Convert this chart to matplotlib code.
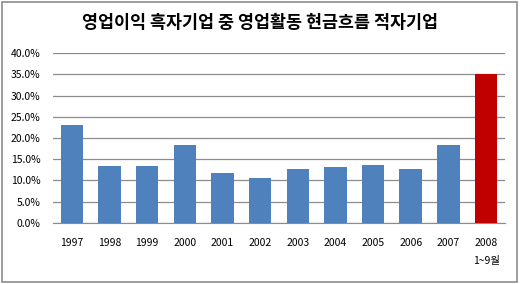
import matplotlib
matplotlib.use('Agg')
from matplotlib import pyplot as plt
from matplotlib.patches import Rectangle
from matplotlib.ticker import FuncFormatter

# data
years = ['1997', '1998', '1999', '2000', '2001', '2002', '2003',
         '2004', '2005', '2006', '2007', '2008\n1~9월']
ratio = [23.1, 13.5, 13.3, 18.4, 11.8, 10.6, 12.7, 13.1, 13.6, 12.7, 18.3, 35.0]
colors = ['#4F81BD'] * 11 + ['#C00000']

plt.rcParams['font.family'] = ['Noto Sans CJK KR', 'DejaVu Sans']

fig = plt.figure(figsize=(5.2, 2.84), dpi=100)
ax = fig.add_axes([0.102, 0.215, 0.869, 0.598])

x = range(len(years))
ax.bar(x, ratio, width=0.6, color=colors, zorder=3)

ax.set_ylim(0, 40)
ax.set_xlim(-0.5, len(years) - 0.5)
ax.set_yticks(range(0, 41, 5))
ax.yaxis.set_major_formatter(FuncFormatter(lambda v, p: '%.1f%%' % v))
ax.set_xticks(list(x))
ax.set_xticklabels(years, fontsize=7.5, linespacing=2.0)
ax.tick_params(axis='y', labelsize=7.5, length=0, pad=9)
ax.tick_params(axis='x', length=0, pad=11)
ax.grid(axis='y', color='#8C8C8C', linewidth=0.9, zorder=0)
for s in ['left', 'right', 'top']:
    ax.spines[s].set_visible(False)
ax.spines['bottom'].set_color('#8C8C8C')

fig.text(0.5, 0.92, '영업이익 흑자기업 중 영업활동 현금흐름 적자기업',
         ha='center', va='center', fontsize=12.5, fontweight='bold')

fig.patches.append(Rectangle((0.004, 0.007), 0.99, 0.986, transform=fig.transFigure,
                             fill=False, edgecolor='#8C8C8C', linewidth=1.2))

fig.savefig('out.png', dpi=100)
